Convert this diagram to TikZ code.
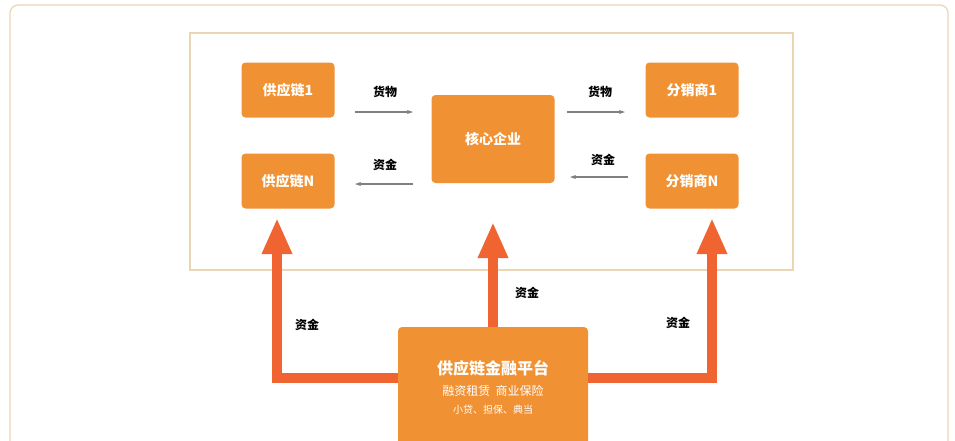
\documentclass[tikz,border=0pt]{standalone}
\usepackage{fontspec}
\setmainfont{Noto Sans CJK SC}
\usetikzlibrary{arrows.meta,positioning}
\definecolor{boxorange}{RGB}{240,146,52}
\definecolor{fatorange}{RGB}{240,100,50}
\definecolor{framebeige}{RGB}{232,214,180}
\tikzset{
  firm/.style={fill=boxorange,rounded corners=4pt,text=white,font=\bfseries\fontsize{14}{16}\selectfont,
               minimum width=93pt,minimum height=55pt,inner sep=0pt},
  flow/.style={->,>={Stealth[length=6pt,width=4pt]},draw=gray,line width=1.2pt},
  fund/.style={-{Triangle[length=36pt,width=28pt]},draw=fatorange,line width=10pt},
  tag/.style={font=\bfseries\fontsize{12}{14}\selectfont,text=black}
}
\begin{document}
\begin{tikzpicture}[x=1pt,y=-1pt]
  \useasboundingbox (0,0) rectangle (955,440);
  \fill[white] (0,0) rectangle (955,440);
  \draw[framebeige,line width=1.2pt,rounded corners=8pt] (10,5) rectangle (948,470);
  \draw[framebeige,line width=1.5pt] (190,33) rectangle (793,270);

  \node[firm] (S1) at (288,90) {供应链1};
  \node[firm] (SN) at (288,181) {供应链N};
  \node[firm,minimum width=123pt,minimum height=88pt] (core) at (493,139) {核心企业};
  \node[firm] (D1) at (692,90) {分销商1};
  \node[firm] (DN) at (692,181) {分销商N};
  \node[fill=boxorange,rounded corners=4pt,minimum width=190pt,minimum height=130pt] (plat) at (493,392) {};
  \node[text=white,font=\bfseries\fontsize{16}{18}\selectfont] (pt) at (493,368) {供应链金融平台};
  \node[text=white,font=\fontsize{12}{14}\selectfont,below=2pt of pt] (p2) {融资租赁\ \ 商业保险};
  \node[text=white,font=\fontsize{10}{12}\selectfont,below=2pt of p2] (p3) {小贷、担保、典当};

  % goods and money inside the chain
  \coordinate (g1a) at (355,112); \coordinate (g1b) at (413,112);
  \coordinate (m1a) at (413,184); \coordinate (m1b) at (355,184);
  \coordinate (g2a) at (567,112); \coordinate (g2b) at (625,112);
  \coordinate (m2a) at (628,177); \coordinate (m2b) at (570,177);
  \draw[flow] (g1a) -- (g1b);
  \draw[flow] (m1a) -- (m1b);
  \draw[flow] (g2a) -- (g2b);
  \draw[flow] (m2a) -- (m2b);
  \node[tag] at (385,92) {货物};
  \node[tag] at (385,165) {资金};
  \node[tag] at (600,92) {货物};
  \node[tag] at (603,160) {资金};

  % funding from the platform
  \coordinate (tl) at (277,218); \coordinate (tc) at (493,222); \coordinate (tr) at (712,218);
  \draw[fund] (plat.west |- 0,378) -| (tl);
  \draw[fund] (plat.north) -- (tc);
  \draw[fund] (plat.east |- 0,378) -| (tr);
  \node[tag] at (307,325) {资金};
  \node[tag] at (527,293) {资金};
  \node[tag] at (678,323) {资金};
\end{tikzpicture}
\end{document}
